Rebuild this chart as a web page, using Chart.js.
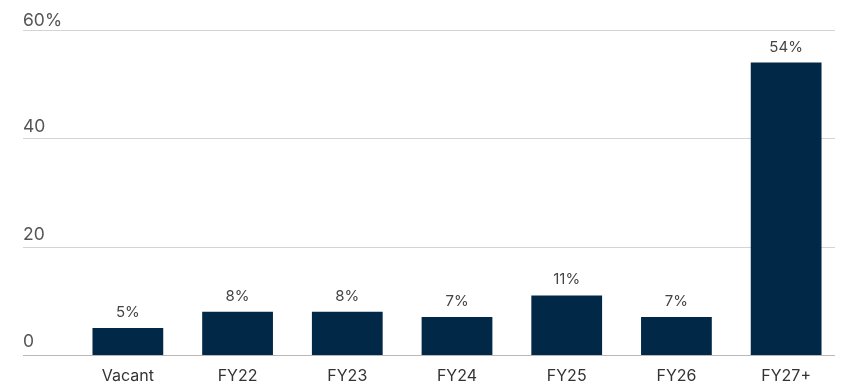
<!DOCTYPE html>
<html>
<head>
<meta charset="utf-8">
<script src="https://cdn.jsdelivr.net/npm/chart.js@4"></script>
<style>
  html, body { margin: 0; padding: 0; background: #fff; }
  #wrap { width: 841px; height: 382px; }
</style>
</head>
<body>
<div id="wrap"><canvas id="lease"></canvas></div>
<script>
const categories = ['Vacant', 'FY22', 'FY23', 'FY24', 'FY25', 'FY26', 'FY27+'];
const shares = [5, 8, 8, 7, 11, 7, 54];
const yTicks = [0, 20, 40, 60];
const yTickLabels = ['0', '20', '40', '60%'];

const FONT = 'Inter, "Noto Sans", sans-serif';

// grid lines + y labels sit to the left of the plot area, so draw them by hand
const gridAndLabels = {
  id: 'gridAndLabels',
  beforeDatasetsDraw(chart) {
    const { ctx, scales: { y } } = chart;
    ctx.save();
    yTicks.forEach((v, i) => {
      const py = Math.round(y.getPixelForValue(v)) + 0.5;
      ctx.strokeStyle = v === 0 ? '#b8b8b8' : '#d4d4d4';
      ctx.lineWidth = 1;
      ctx.beginPath();
      ctx.moveTo(23, py);
      ctx.lineTo(835, py);
      ctx.stroke();
      ctx.fillStyle = '#555';
      ctx.font = '17.5px ' + FONT;
      ctx.textAlign = 'left';
      ctx.textBaseline = 'alphabetic';
      // labels drift a little closer to their line towards the top
      ctx.fillText(yTickLabels[i], 23, py - (9 - v / 15));
    });
    ctx.restore();
  },
  afterDatasetsDraw(chart) {
    const { ctx } = chart;
    const meta = chart.getDatasetMeta(0);
    ctx.save();
    ctx.fillStyle = '#444';
    ctx.font = '15px ' + FONT;
    ctx.textAlign = 'center';
    ctx.textBaseline = 'alphabetic';
    meta.data.forEach((bar, i) => {
      ctx.fillText(shares[i] + '%', bar.x, bar.y - 11);
    });
    ctx.restore();
  }
};

new Chart(document.getElementById('lease'), {
  type: 'bar',
  data: {
    labels: categories,
    datasets: [{
      data: shares,
      backgroundColor: '#022848',
      categoryPercentage: 1,
      barPercentage: 0.645
    }]
  },
  options: {
    responsive: true,
    maintainAspectRatio: false,
    animation: false,
    layout: { padding: { top: 30, left: 73, right: 0, bottom: 0 } },
    plugins: {
      legend: { display: false },
      tooltip: { enabled: false }
    },
    scales: {
      x: {
        grid: { display: false },
        border: { display: false },
        ticks: {
          color: '#333',
          font: { family: FONT, size: 16 },
          padding: 4
        },
        afterFit(scale) { scale.height = 27; }
      },
      y: {
        display: false,
        min: 0,
        max: 60
      }
    }
  },
  plugins: [gridAndLabels]
});
</script>
</body>
</html>
